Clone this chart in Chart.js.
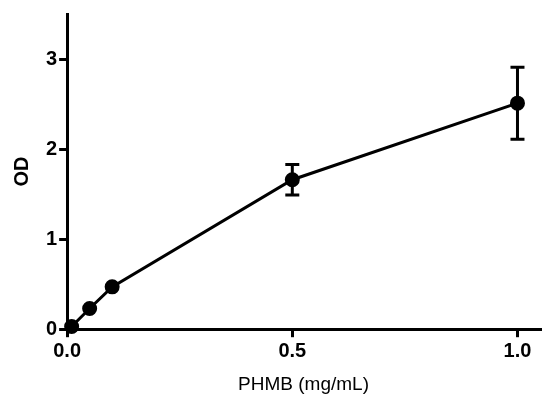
<!DOCTYPE html>
<html>
<head>
<meta charset="utf-8">
<script src="https://cdn.jsdelivr.net/npm/chart.js@4"></script>
<style>
  html, body { margin: 0; padding: 0; background: #fff; }
  #wrap { width: 550px; height: 410px; }
</style>
</head>
<body>
<div id="wrap"><canvas id="chart-od"></canvas></div>
<script>
// PHMB concentration vs OD
let concPHMB = [0.01, 0.05, 0.1, 0.5, 1.0];
let valuesOD = [0.03, 0.23, 0.47, 1.66, 2.51];
let errorsOD = [0, 0, 0, 0.17, 0.40];
let xTicks = [0, 0.5, 1.0];
let yTicks = [0, 1, 2, 3];

// draws the error bars from errorsOD through the chart's scales
const errorBars = {
    id: 'errorBars',
    afterDatasetsDraw(chart) {
        const ctx = chart.ctx;
        const xs = chart.scales.x, ys = chart.scales.y;
        ctx.save();
        ctx.strokeStyle = '#000';
        ctx.lineWidth = 3;
        concPHMB.forEach((c, i) => {
            const e = errorsOD[i];
            if (!e) return;
            const px = xs.getPixelForValue(c);
            const top = ys.getPixelForValue(valuesOD[i] + e);
            const bot = ys.getPixelForValue(valuesOD[i] - e);
            ctx.beginPath();
            ctx.moveTo(px, top); ctx.lineTo(px, bot);
            ctx.moveTo(px - 7, top); ctx.lineTo(px + 7, top);
            ctx.moveTo(px - 7, bot); ctx.lineTo(px + 7, bot);
            ctx.stroke();
        });
        ctx.restore();
    }
};

var ctxOD = document.getElementById('chart-od').getContext('2d');

let chartOD = new Chart(ctxOD, {
    type: 'scatter',
    data: {
        datasets: [{
            data: concPHMB.map((c, i) => ({ x: c, y: valuesOD[i] })),
            showLine: true,
            borderColor: '#000',
            backgroundColor: '#000',
            borderWidth: 3,
            pointRadius: 6,
            pointHoverRadius: 6,
            clip: false
        }]
    },
    options: {
        responsive: true,
        maintainAspectRatio: false,
        animation: false,
        layout: { padding: { top: 12, right: 10, bottom: 10, left: 6 } },
        plugins: { legend: { display: false }, tooltip: { enabled: false } },
        scales: {
            x: {
                type: 'linear',
                min: 0,
                max: 1.05,
                afterBuildTicks: s => { s.ticks = xTicks.map(v => ({ value: v })); },
                border: { color: '#000', width: 3 },
                grid: { drawOnChartArea: false, color: '#000', lineWidth: 3, tickLength: 8 },
                ticks: {
                    color: '#000',
                    padding: 2,
                    font: { family: 'Liberation Sans, Arial, sans-serif', size: 20, weight: 'bold' },
                    callback: v => v.toFixed(1)
                },
                title: {
                    display: true,
                    text: 'PHMB (mg/mL)',
                    color: '#000',
                    padding: { top: 8 },
                    font: { family: 'Liberation Sans, Arial, sans-serif', size: 19 }
                }
            },
            y: {
                min: 0,
                max: 3.5,
                afterBuildTicks: s => { s.ticks = yTicks.map(v => ({ value: v })); },
                border: { color: '#000', width: 3 },
                grid: { drawOnChartArea: false, color: '#000', lineWidth: 3, tickLength: 8 },
                ticks: {
                    color: '#000',
                    padding: 2,
                    font: { family: 'Liberation Sans, Arial, sans-serif', size: 20, weight: 'bold' }
                },
                title: {
                    display: true,
                    text: 'OD',
                    color: '#000',
                    padding: { bottom: 10 },
                    font: { family: 'Liberation Sans, Arial, sans-serif', size: 20, weight: 'bold' }
                }
            }
        }
    },
    plugins: [errorBars]
});
</script>
</body>
</html>
